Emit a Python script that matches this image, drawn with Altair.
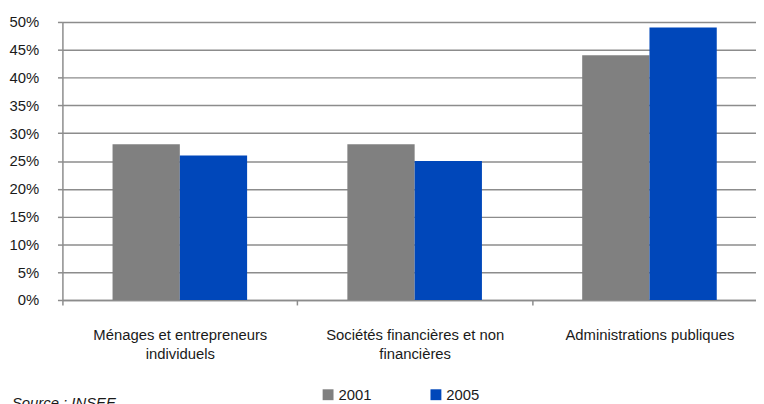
import altair as alt
import pandas as pd

categories = [
    "Ménages et entrepreneurs\nindividuels",
    "Sociétés financières et non\nfinancières",
    "Administrations publiques",
]
years = ["2001", "2005"]
values_2001 = [0.28, 0.28, 0.44]
values_2005 = [0.26, 0.25, 0.49]
y_ticks = [0, 0.05, 0.10, 0.15, 0.20, 0.25, 0.30, 0.35, 0.40, 0.45, 0.50]
year_colors = ["#808080", "#0047BA"]
source_text = "Source : INSEE"

rows = []
for c, a, b in zip(categories, values_2001, values_2005):
    rows.append({"cat": c, "year": years[0], "value": a})
    rows.append({"cat": c, "year": years[1], "value": b})
df = pd.DataFrame(rows)

FONT = "Liberation Sans"
GRID = "#8c8c8c"
TEXT = "#1a1a1a"

bars = alt.Chart(df).mark_bar().encode(
    x=alt.X(
        "cat:N",
        sort=categories,
        scale=alt.Scale(range=[0, 712], paddingInner=0, paddingOuter=0),
        axis=alt.Axis(
            title=None,
            labelAngle=0,
            tickBand="extent",
            labelExpr="split(datum.label, '\\n')",
            labelLimit=400,
            labelOverlap=False,
            labelPadding=23,
            labelLineHeight=19,
            labelBaseline="top",
            labelFontSize=15,
            labelFont=FONT,
            labelColor=TEXT,
            tickSize=5,
            tickColor=GRID,
            tickWidth=1.5,
            domainColor=GRID,
            domainWidth=1.5,
            grid=False,
        ),
    ),
    xOffset=alt.XOffset(
        "year:N", sort=years, scale=alt.Scale(paddingInner=0, paddingOuter=0.745)
    ),
    y=alt.Y(
        "value:Q",
        scale=alt.Scale(domain=[0, 0.5], nice=False),
        axis=alt.Axis(
            title=None,
            values=y_ticks,
            format=".0%",
            labelFontSize=15,
            labelFont=FONT,
            labelColor=TEXT,
            labelPadding=19,
            tickSize=5,
            tickColor=GRID,
            tickWidth=1.5,
            domainColor=GRID,
            domainWidth=1.5,
            grid=True,
            gridColor=GRID,
            gridWidth=1.5,
        ),
    ),
    color=alt.Color(
        "year:N",
        scale=alt.Scale(domain=years, range=year_colors),
        legend=alt.Legend(
            title=None,
            orient="none",
            legendX=261,
            legendY=369,
            direction="horizontal",
            symbolType="square",
            symbolSize=121,
            symbolStrokeWidth=0,
            labelFontSize=15,
            labelFont=FONT,
            labelColor=TEXT,
            labelOffset=3,
            columnPadding=57,
            padding=0,
        ),
    ),
)

src = alt.Chart(pd.DataFrame({"t": [source_text]})).mark_text(
    align="left", baseline="alphabetic", fontSize=15, font=FONT,
    fontStyle="italic", color=TEXT,
).encode(text="t:N", x=alt.value(-51), y=alt.value(390))

chart = alt.layer(bars, src).properties(
    width=701,
    height=281,
    autosize=alt.AutoSizeParams(type="none"),
    padding={"left": 55, "top": 12, "right": 0, "bottom": 103},
).configure_view(stroke=None)

chart.save("out.html", embed_options={"renderer": "svg", "actions": False})
